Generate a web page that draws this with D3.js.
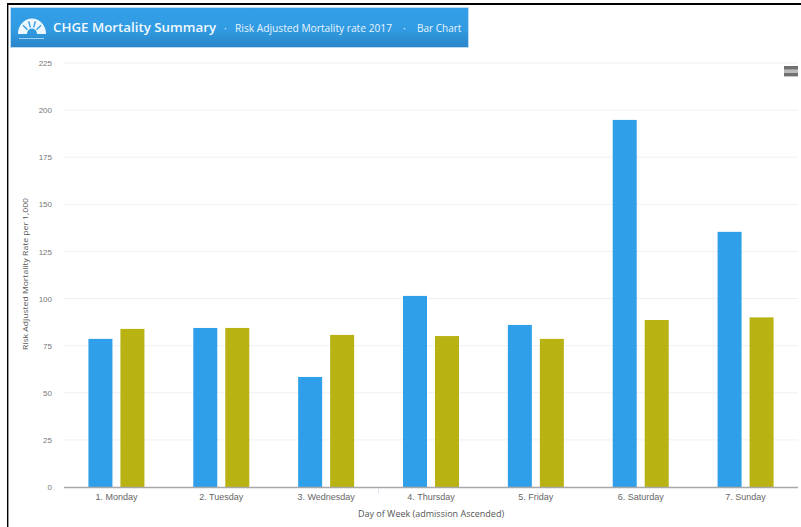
<!DOCTYPE html>
<html>
<head>
<meta charset="utf-8">
<script src="https://cdn.jsdelivr.net/npm/d3@7"></script>
<style>
  html, body { margin: 0; padding: 0; background: #fff; }
  svg { display: block; font-family: "Open Sans", "Liberation Sans", sans-serif; }
</style>
</head>
<body>
<svg id="chart" width="801" height="527"></svg>
<script>
const days = ["1. Monday", "2. Tuesday", "3. Wednesday", "4. Thursday", "5. Friday", "6. Saturday", "7. Sunday"];
const seriesNames = ["Observed", "Expected"];
const observed = [78.6, 84.4, 58.4, 101.4, 86, 194.8, 135.4];
const expected = [83.9, 84.4, 80.7, 80.1, 78.6, 88.6, 90];
const yTicks = [0, 25, 50, 75, 100, 125, 150, 175, 200, 225];
const seriesColors = ["#2f9fe9", "#b8b213"];

const titleMain = "CHGE Mortality Summary";
const titleSub = "Risk Adjusted Mortality rate 2017";
const titleTail = "Bar Chart";
const xTitle = "Day of Week (admission Ascended)";
const yTitle = "Risk Adjusted Mortality Rate per 1,000";

const svg = d3.select("#chart");

// Frame edges
svg.append("rect").attr("x", 7).attr("y", 3).attr("width", 794).attr("height", 2).attr("fill", "#000");
svg.append("rect").attr("x", 7).attr("y", 3).attr("width", 1.4).attr("height", 524).attr("fill", "#000");

// Header banner
const defs = svg.append("defs");
const grad = defs.append("linearGradient").attr("id", "banner").attr("x1", 0).attr("y1", 0).attr("x2", 0).attr("y2", 1);
grad.append("stop").attr("offset", "0%").attr("stop-color", "#339fe8");
grad.append("stop").attr("offset", "55%").attr("stop-color", "#319be2");
grad.append("stop").attr("offset", "100%").attr("stop-color", "#2a85c8");
svg.append("rect").attr("x", 10.5).attr("y", 7.5).attr("width", 458).attr("height", 40)
  .attr("fill", "url(#banner)").attr("stroke", "#bcdcf3");

// Gauge emblem in the banner
const emblem = svg.append("g").attr("transform", "translate(32,34) scale(1,1.1)");
const arc = d3.arc();
emblem.append("path")
  .attr("d", arc({innerRadius: 5, outerRadius: 14, startAngle: -Math.PI / 2, endAngle: Math.PI / 2}))
  .attr("fill", "#eef7fd");
[-0.85, -0.28, 0.28, 0.85].forEach(a => {
  emblem.append("line")
    .attr("x1", 6 * Math.sin(a)).attr("y1", -6 * Math.cos(a))
    .attr("x2", 12 * Math.sin(a)).attr("y2", -12 * Math.cos(a))
    .attr("stroke", "#3aa0e6").attr("stroke-width", 1.4);
});
svg.append("line").attr("x1", 19).attr("x2", 44).attr("y1", 38.5).attr("y2", 38.5).attr("stroke", "#9fd0f2");

svg.append("text").attr("x", 53).attr("y", 32).attr("fill", "#f2f9fe")
  .attr("font-size", 13.3).attr("font-weight", 600)
  .attr("textLength", 163).attr("lengthAdjust", "spacingAndGlyphs").text(titleMain);
svg.append("text").attr("x", 224).attr("y", 32).attr("fill", "#e8f4fd").attr("font-size", 10).text("\u00b7");
svg.append("text").attr("x", 235).attr("y", 32).attr("fill", "#e8f4fd")
  .attr("font-size", 10).attr("textLength", 157).attr("lengthAdjust", "spacingAndGlyphs").text(titleSub);
svg.append("text").attr("x", 403).attr("y", 32).attr("fill", "#e8f4fd").attr("font-size", 10).text("\u00b7");
svg.append("text").attr("x", 417).attr("y", 32).attr("fill", "#e8f4fd").attr("font-size", 10).text(titleTail);

// Scales
const margin = {left: 64, right: 798, bottom: 487};
const y = d3.scaleLinear().domain([0, 225]).range([487, 63]);
const x0 = d3.scaleBand().domain(days).range([64, 798]);
const x1 = d3.scaleOrdinal().domain(seriesNames).range([-32, 0]);
const barWidth = 24;

// Horizontal grid lines
svg.append("g").selectAll("line").data(yTicks.slice(1)).join("line")
  .attr("x1", margin.left).attr("x2", margin.right)
  .attr("y1", d => y(d)).attr("y2", d => y(d))
  .attr("stroke", "#f0f0f0");

// Bars
const groups = svg.append("g").selectAll("g").data(days).join("g")
  .attr("transform", d => `translate(${x0(d) + x0.bandwidth() / 2 + 4},0)`);
groups.selectAll("rect")
  .data((d, i) => [
    {name: seriesNames[0], value: observed[i], color: seriesColors[0]},
    {name: seriesNames[1], value: expected[i], color: seriesColors[1]}
  ])
  .join("rect")
  .attr("x", d => x1(d.name))
  .attr("width", barWidth)
  .attr("y", d => y(d.value))
  .attr("height", d => y(0) - y(d.value))
  .attr("fill", d => d.color);

// Value axis
const yAxis = d3.axisLeft(y).tickValues(yTicks).tickSize(0).tickPadding(0);
const yG = svg.append("g").attr("transform", "translate(52,0)").call(yAxis);
yG.select(".domain").remove();
yG.selectAll("text").attr("fill", "#777").attr("font-size", 8).attr("font-family", "inherit");

// Category axis
svg.append("line").attr("x1", margin.left).attr("x2", margin.right).attr("y1", 487.5).attr("y2", 487.5)
  .attr("stroke", "#a8a8a8").attr("stroke-width", 1.5);
svg.append("line").attr("x1", 378.5).attr("x2", 378.5).attr("y1", 488).attr("y2", 493).attr("stroke", "#d8dfee");
const xAxis = d3.axisBottom(x0).tickSize(0).tickPadding(7);
const xG = svg.append("g").attr("transform", "translate(0,487)").call(xAxis);
xG.select(".domain").remove();
xG.selectAll("text").attr("fill", "#666").attr("font-size", 9).attr("font-family", "inherit");

// Axis titles
svg.append("text").attr("x", 431).attr("y", 517).attr("text-anchor", "middle")
  .attr("fill", "#555").attr("font-size", 9).text(xTitle);
svg.append("text").attr("transform", "translate(28,274) rotate(-90)").attr("text-anchor", "middle")
  .attr("fill", "#555").attr("font-size", 8)
  .attr("textLength", 152).attr("lengthAdjust", "spacingAndGlyphs").text(yTitle);

// Menu icon
svg.append("rect").attr("x", 784).attr("y", 69).attr("width", 14).attr("height", 4).attr("fill", "#bbb");
[66, 73].forEach(v => {
  svg.append("rect").attr("x", 784).attr("y", v).attr("width", 14).attr("height", 3.4).attr("fill", "#707070");
});
</script>
</body>
</html>
